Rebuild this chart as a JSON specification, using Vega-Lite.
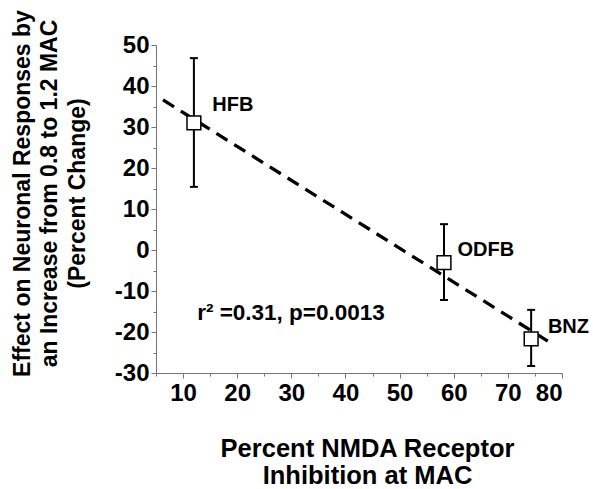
{
  "$schema": "https://vega.github.io/schema/vega-lite/v6.json",
  "width": 406,
  "height": 328,
  "autosize": {"type": "none"},
  "padding": {"left": 156, "top": 45, "right": 31, "bottom": 116},
  "background": "white",
  "config": {"view": {"stroke": null}, "font": "Liberation Sans"},
  "datasets": {
    "pts": [
      {"drug": "HFB", "inhibition": 12, "effect": 31, "lo": 15.4, "hi": 46.8, "label_x": 15.4, "label_y": 35.4},
      {"drug": "ODFB", "inhibition": 58.2, "effect": -3.1, "lo": -12.2, "hi": 6.3, "label_x": 60.7, "label_y": 0},
      {"drug": "BNZ", "inhibition": 74.3, "effect": -21.7, "lo": -28.3, "hi": -14.6, "label_x": 77.4, "label_y": -18.7}
    ],
    "fit": [
      {"inhibition": 6.3, "effect": 36.6},
      {"inhibition": 77.6, "effect": -22.4}
    ],
    "note": [
      {"text": "r² =0.31, p=0.0013", "inhibition": 12.6, "effect": -15.4}
    ]
  },
  "layer": [
    {
      "data": {"name": "fit"},
      "mark": {"type": "line", "color": "black", "strokeWidth": 3.3, "strokeDash": [13, 8], "strokeCap": "butt"},
      "encoding": {
        "x": {"field": "inhibition", "type": "quantitative", "scale": {"domain": [5, 80], "nice": false, "zero": false},
          "axis": {"orient": "bottom", "values": [5, 15, 25, 35, 45, 55, 65, 75], "labels": false, "title": null, "grid": false, "domain": false, "tickSize": 3, "tickColor": "#777"}},
        "y": {"field": "effect", "type": "quantitative", "scale": {"domain": [-30, 50], "nice": false, "zero": false},
          "axis": {"orient": "left", "values": [-25, -15, -5, 5, 15, 25, 35, 45], "labels": false, "title": null, "grid": false, "domain": false, "tickSize": 3, "tickColor": "#777"}}
      }
    },
    {
      "data": {"name": "pts"},
      "mark": {"type": "rule", "color": "black", "strokeWidth": 2},
      "encoding": {
        "x": {"field": "inhibition", "type": "quantitative", "axis": null},
        "y": {"field": "lo", "type": "quantitative", "axis": null},
        "y2": {"field": "hi"}
      }
    },
    {
      "data": {"name": "pts"},
      "mark": {"type": "tick", "orient": "horizontal", "size": 8, "thickness": 2, "color": "black", "opacity": 1},
      "encoding": {
        "x": {"field": "inhibition", "type": "quantitative", "axis": null},
        "y": {"field": "lo", "type": "quantitative", "axis": null}
      }
    },
    {
      "data": {"name": "pts"},
      "mark": {"type": "tick", "orient": "horizontal", "size": 8, "thickness": 2, "color": "black", "opacity": 1},
      "encoding": {
        "x": {"field": "inhibition", "type": "quantitative", "axis": null},
        "y": {"field": "hi", "type": "quantitative", "axis": null}
      }
    },
    {
      "data": {"name": "pts"},
      "mark": {"type": "point", "shape": "square", "size": 190, "filled": true, "fill": "white", "stroke": "black", "strokeWidth": 1.5, "opacity": 1},
      "encoding": {
        "x": {"field": "inhibition", "type": "quantitative",
          "axis": {"orient": "bottom", "values": [10, 20, 30, 40, 50, 60, 70, 80], "grid": false, "tickSize": 5, "domainColor": "#777", "tickColor": "#777",
            "labelFontSize": 24, "labelFontWeight": "bold", "labelColor": "black", "labelPadding": 3,
            "title": ["Percent NMDA Receptor", "Inhibition at MAC"], "titleFontSize": 25.5, "titleFontWeight": "bold", "titleColor": "black",
            "titleX": 211, "titleY": 83, "titleBaseline": "alphabetic", "titleLineHeight": 27}},
        "y": {"field": "effect", "type": "quantitative",
          "axis": {"orient": "left", "values": [-30, -20, -10, 0, 10, 20, 30, 40, 50], "grid": false, "tickSize": 5, "domainColor": "#777", "tickColor": "#777",
            "labelFontSize": 24, "labelFontWeight": "bold", "labelColor": "black", "labelPadding": 2,
            "labelExpr": "replace(datum.label, '−', '-')",
            "title": ["Effect on Neuronal Responses by", "an Increase from 0.8 to 1.2 MAC", "(Percent Change)"], "titleFontSize": 23, "titleFontWeight": "bold", "titleColor": "black",
            "titleAngle": -90, "titleX": -134, "titleY": 148, "titleBaseline": "middle", "titleAlign": "center", "titleLineHeight": 27.5}}
      }
    },
    {
      "data": {"name": "pts"},
      "mark": {"type": "text", "align": "left", "baseline": "middle", "fontSize": 20, "fontWeight": "bold", "color": "black"},
      "encoding": {
        "x": {"field": "label_x", "type": "quantitative", "axis": null},
        "y": {"field": "label_y", "type": "quantitative", "axis": null},
        "text": {"field": "drug"}
      }
    },
    {
      "data": {"name": "note"},
      "mark": {"type": "text", "align": "left", "baseline": "middle", "fontSize": 22.5, "fontWeight": "bold", "color": "black"},
      "encoding": {
        "x": {"field": "inhibition", "type": "quantitative", "axis": null},
        "y": {"field": "effect", "type": "quantitative", "axis": null},
        "text": {"field": "text"}
      }
    }
  ],
  "resolve": {"axis": {"x": "independent", "y": "independent"}}
}
